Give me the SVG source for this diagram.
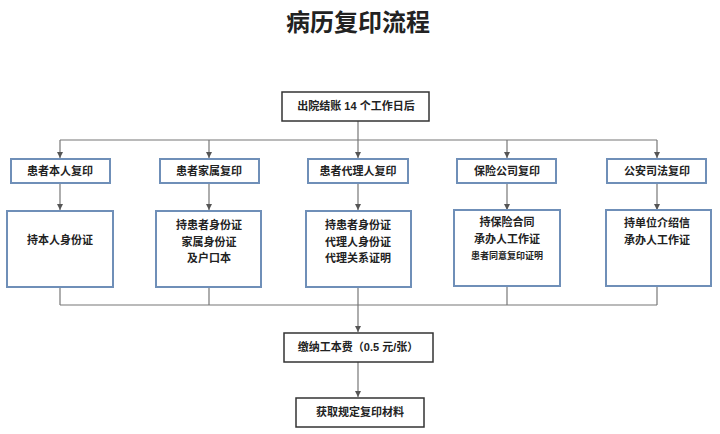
<svg xmlns="http://www.w3.org/2000/svg" width="720" height="434" viewBox="0 0 720 434">
<style>
text{font-family:"Liberation Sans","Noto Sans CJK SC",sans-serif;font-weight:bold;fill:#222;text-anchor:middle}
.t{font-size:11px}
.b{fill:#fff;stroke:#6f8fb8;stroke-width:2}
.k{fill:#fff;stroke:#333;stroke-width:1.5}
.c line{stroke:#777;stroke-width:1.2}
</style>
<defs><marker id="a" markerWidth="6" markerHeight="6" refX="5" refY="3" orient="auto"><path d="M0,0.5L5,3L0,5.5z" fill="#555"/></marker></defs>
<rect width="720" height="434" fill="#fff"/>
<text x="358" y="31" style="font-size:24px">病历复印流程</text>
<g class="c">
<line x1="358" y1="121" x2="358" y2="140"/>
<line x1="60" y1="140" x2="657" y2="140"/>
<line x1="60" y1="140" x2="60" y2="158" marker-end="url(#a)"/>
<line x1="209" y1="140" x2="209" y2="158" marker-end="url(#a)"/>
<line x1="358" y1="140" x2="358" y2="158" marker-end="url(#a)"/>
<line x1="507" y1="140" x2="507" y2="158" marker-end="url(#a)"/>
<line x1="657" y1="140" x2="657" y2="158" marker-end="url(#a)"/>
<line x1="60" y1="183" x2="60" y2="210" marker-end="url(#a)"/>
<line x1="209" y1="183" x2="209" y2="210" marker-end="url(#a)"/>
<line x1="358" y1="183" x2="358" y2="210" marker-end="url(#a)"/>
<line x1="507" y1="183" x2="507" y2="210" marker-end="url(#a)"/>
<line x1="657" y1="183" x2="657" y2="210" marker-end="url(#a)"/>
<line x1="60" y1="287" x2="60" y2="305"/>
<line x1="209" y1="287" x2="209" y2="305"/>
<line x1="358" y1="287" x2="358" y2="305"/>
<line x1="507" y1="287" x2="507" y2="305"/>
<line x1="657" y1="287" x2="657" y2="305"/>
<line x1="60" y1="305" x2="657" y2="305"/>
<line x1="358" y1="305" x2="358" y2="332" marker-end="url(#a)"/>
<line x1="358" y1="362" x2="358" y2="397" marker-end="url(#a)"/>
</g>
<g id="start"><rect class="k" x="282" y="92" width="147" height="29"/><text class="t" x="356" y="110">出院结账 14 个工作日后</text></g>
<g id="n1"><rect class="b" x="11" y="159" width="99" height="24"/><text class="t" x="60" y="175">患者本人复印</text></g>
<g id="n2"><rect class="b" x="160" y="159" width="99" height="24"/><text class="t" x="209" y="175">患者家属复印</text></g>
<g id="n3"><rect class="b" x="308" y="159" width="100" height="24"/><text class="t" x="358" y="175">患者代理人复印</text></g>
<g id="n4"><rect class="b" x="457" y="159" width="99" height="24"/><text class="t" x="507" y="175">保险公司复印</text></g>
<g id="n5"><rect class="b" x="607" y="159" width="99" height="24"/><text class="t" x="657" y="175">公安司法复印</text></g>
<g id="d1"><rect class="b" x="7" y="211" width="106" height="76"/><text class="t" x="60" y="244">持本人身份证</text></g>
<g id="d2"><rect class="b" x="156" y="211" width="105" height="76"/><text class="t" x="209" y="229">持患者身份证</text><text class="t" x="209" y="246">家属身份证</text><text class="t" x="209" y="262">及户口本</text></g>
<g id="d3"><rect class="b" x="306" y="211" width="105" height="76"/><text class="t" x="358" y="229">持患者身份证</text><text class="t" x="358" y="246">代理人身份证</text><text class="t" x="358" y="262">代理关系证明</text></g>
<g id="d4"><rect class="b" x="454" y="210" width="106" height="76"/><text class="t" x="507" y="226">持保险合同</text><text class="t" x="507" y="243">承办人工作证</text><text x="507" y="259" style="font-size:9px">患者同意复印证明</text></g>
<g id="d5"><rect class="b" x="606" y="210" width="105" height="76"/><text class="t" x="657" y="227">持单位介绍信</text><text class="t" x="657" y="244">承办人工作证</text></g>
<g id="fee"><rect class="k" x="284" y="333" width="149" height="29"/><text class="t" x="358" y="351">缴纳工本费（0.5 元/张）</text></g>
<g id="end"><rect class="k" x="296" y="398" width="128" height="29"/><text class="t" x="360" y="416">获取规定复印材料</text></g>
</svg>
